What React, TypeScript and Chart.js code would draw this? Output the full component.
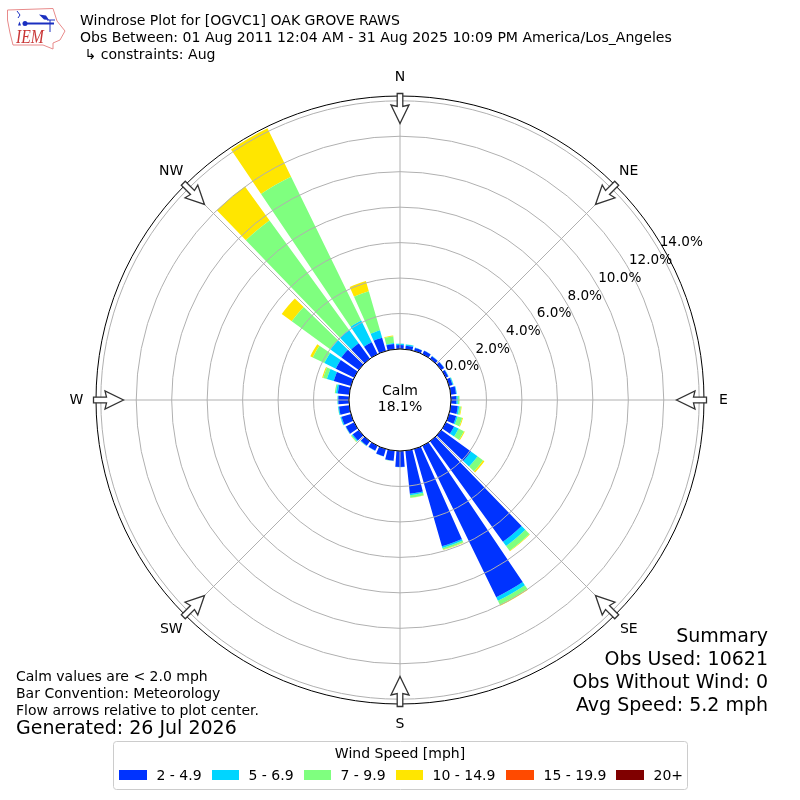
import React, { useEffect, useRef } from "react";
import { Chart, registerables } from "chart.js";

Chart.register(...registerables);

const directions = [0, 10, 20, 30, 40, 50, 60, 70, 80, 90, 100, 110, 120, 130, 140, 150, 160, 170, 180, 190, 200, 210, 220, 230, 240, 250, 260, 270, 280, 290, 300, 310, 320, 330, 340, 350];
const bin2to5 = [0.22, 0.2, 0.18, 0.22, 0.18, 0.2, 0.15, 0.2, 0.3, 0.3, 0.4, 0.42, 0.52, 2.07, 7.0, 9.5, 5.7, 2.44, 0.9, 0.57, 0.43, 0.3, 0.3, 0.42, 0.52, 0.55, 0.58, 0.6, 0.65, 1.01, 1.15, 1.21, 1.08, 0.75, 0.78, 0.3];
const bin5to7 = [0.08, 0.07, 0.02, 0.01, 0.02, 0.02, 0.03, 0.05, 0.04, 0.08, 0.08, 0.08, 0.28, 0.46, 0.3, 0.22, 0.1, 0.08, 0.01, 0.01, 0.01, 0.02, 0.03, 0.06, 0.02, 0.06, 0.05, 0.04, 0.1, 0.4, 0.72, 0.76, 0.94, 1.36, 0.43, 0.05];
const bin7to10 = [0.01, 0.02, 0, 0, 0, 0, 0, 0.02, 0, 0.1, 0.1, 0.27, 0.33, 0.38, 0.33, 0.25, 0.1, 0.14, 0, 0.01, 0, 0, 0.02, 0.05, 0.01, 0.02, 0.02, 0.02, 0.07, 0.22, 0.73, 2.7, 7.62, 9.03, 2.29, 0.38];
const bin10to15 = [0, 0, 0, 0, 0, 0, 0, 0, 0, 0, 0.04, 0.05, 0.06, 0.1, 0.04, 0.06, 0.03, 0.02, 0, 0, 0, 0, 0, 0.02, 0, 0, 0, 0, 0, 0.06, 0.15, 0.7, 2.36, 3.03, 0.6, 0.05];
const bin15to20 = directions.map(() => 0);
const bin20plus = directions.map(() => 0);

const binLabels = ["2 - 4.9", "5 - 6.9", "7 - 9.9", "10 - 14.9", "15 - 19.9", "20+"];
const binColors = ["#0033ff", "#00d5ff", "#7fff7f", "#ffe600", "#ff4a00", "#800000"];
const rTicks = [0, 2, 4, 6, 8, 10, 12, 14];
const compass = ["N", "NE", "E", "SE", "S", "SW", "W", "NW"];

const titleLines = [
  "Windrose Plot for [OGVC1] OAK GROVE RAWS",
  "Obs Between: 01 Aug 2011 12:04 AM - 31 Aug 2025 10:09 PM America/Los_Angeles",
  " \u21B3 constraints: Aug",
];
const noteLines = ["Calm values are < 2.0 mph", "Bar Convention: Meteorology", "Flow arrows relative to plot center."];
const generated = "Generated: 26 Jul 2026";
const summaryLines = ["Summary", "Obs Used: 10621", "Obs Without Wind: 0", "Avg Speed: 5.2 mph"];

const FONT = '"DejaVu Sans"';
const bins = [bin2to5, bin5to7, bin7to10, bin10to15, bin15to20, bin20plus];

function cumulative(level: number): number[] {
  const out: number[] = [];
  directions.forEach((_, i) => {
    let total = 0;
    for (let b = 0; b <= level; b++) total += bins[b][i];
    out.push(Math.round(total * 1000) / 1000, 0);
  });
  return out;
}

function text(ctx: CanvasRenderingContext2D, s: string, x: number, y: number, size: number, align: CanvasTextAlign = "left", color = "#000") {
  ctx.font = `${size}px ${FONT}`;
  ctx.textAlign = align;
  ctx.textBaseline = "middle";
  ctx.fillStyle = color;
  ctx.fillText(s, x, y);
}

function drawLogo(ctx: CanvasRenderingContext2D) {
  ctx.save();
  const outline = [[7.5, 10], [53, 8.5], [57, 21], [65, 31], [60, 40], [53, 43], [53, 49], [43, 45], [13, 45], [10, 33], [7.5, 20]];
  ctx.strokeStyle = "#e88a8a";
  ctx.lineWidth = 1;
  ctx.beginPath();
  outline.forEach(([x, y], i) => (i ? ctx.lineTo(x, y) : ctx.moveTo(x, y)));
  ctx.closePath();
  ctx.stroke();
  ctx.strokeStyle = "#1a2fc0";
  ctx.fillStyle = "#1a2fc0";
  ctx.lineWidth = 2;
  ctx.beginPath();
  ctx.moveTo(25, 23.5);
  ctx.lineTo(54, 23.5);
  ctx.stroke();
  ctx.beginPath();
  ctx.arc(25, 23.5, 2.5, 0, Math.PI * 2);
  ctx.fill();
  ctx.beginPath();
  ctx.moveTo(39, 14.5);
  ctx.lineTo(46, 15.5);
  ctx.lineTo(49, 20);
  ctx.lineTo(44, 19.5);
  ctx.closePath();
  ctx.fill();
  ctx.lineWidth = 1;
  ctx.beginPath();
  ctx.moveTo(17, 11);
  ctx.lineTo(20, 15);
  ctx.lineTo(18, 18);
  ctx.moveTo(50, 20);
  ctx.lineTo(50, 32);
  ctx.moveTo(47, 20);
  ctx.lineTo(55, 20);
  ctx.stroke();
  ctx.beginPath();
  ctx.moveTo(18, 25.5);
  ctx.lineTo(21, 25.5);
  ctx.lineTo(19.5, 21.5);
  ctx.closePath();
  ctx.fill();
  ctx.translate(16, 38);
  ctx.scale(0.87, 1);
  ctx.font = 'italic 18px "Liberation Serif"';
  ctx.textAlign = "left";
  ctx.textBaseline = "middle";
  ctx.fillStyle = "#c93636";
  ctx.fillText("IEM", 0, 0);
  ctx.restore();
}

function drawArrow(ctx: CanvasRenderingContext2D, cx: number, cy: number, deg: number) {
  ctx.save();
  ctx.translate(cx, cy);
  ctx.rotate((deg * Math.PI) / 180);
  // Local frame: y runs outward towards the rim
  const shape = [[-2.8, -306.5], [2.8, -306.5], [2.8, -293.5], [9, -295], [0, -276.5], [-9, -295], [-2.8, -293.5]];
  ctx.beginPath();
  shape.forEach(([x, y], i) => (i ? ctx.lineTo(x, y) : ctx.moveTo(x, y)));
  ctx.closePath();
  ctx.fillStyle = "#fff";
  ctx.fill();
  ctx.strokeStyle = "#333";
  ctx.lineWidth = 1.3;
  ctx.stroke();
  ctx.restore();
}

const windrosePlugin = {
  id: "windrose",
  // Turn each cumulative wedge into a ring segment that starts where the lower speed bin ends.
  afterDatasetsUpdate(chart: any) {
    const r = chart.scales.r;
    const zero = r.getDistanceFromCenterForValue(0);
    chart.data.datasets.forEach((_: any, level: number) => {
      const arcs = chart.getDatasetMeta(level).data;
      const below = level > 0 ? chart.getDatasetMeta(level - 1).data : null;
      arcs.forEach((arc: any, i: number) => {
        if (i % 2) {
          arc.outerRadius = 0;
          arc.innerRadius = 0;
          return;
        }
        arc.innerRadius = below ? below[i].outerRadius : zero;
      });
    });
  },
  afterDraw(chart: any) {
    const { ctx } = chart;
    const r = chart.scales.r;
    const cx = r.xCenter;
    const cy = r.yCenter;
    const calm = r.getDistanceFromCenterForValue(0);
    const outer = r.getDistanceFromCenterForValue(r.max);
    ctx.save();

    ctx.strokeStyle = "#b0b0b0";
    ctx.lineWidth = 1;
    compass.forEach((_, i) => {
      const a = (i * Math.PI) / 4;
      ctx.beginPath();
      ctx.moveTo(cx, cy);
      ctx.lineTo(cx + outer * Math.sin(a), cy - outer * Math.cos(a));
      ctx.stroke();
    });

    ctx.beginPath();
    ctx.arc(cx, cy, calm, 0, Math.PI * 2);
    ctx.fillStyle = "#fff";
    ctx.fill();
    ctx.strokeStyle = "#000";
    ctx.lineWidth = 1;
    ctx.stroke();
    ctx.beginPath();
    ctx.arc(cx, cy, outer, 0, Math.PI * 2);
    ctx.stroke();

    text(ctx, "Calm", cx, 391.5, 14, "center");
    text(ctx, "18.1%", cx, 407.5, 14, "center");

    compass.forEach((name, i) => {
      const deg = i * 45;
      drawArrow(ctx, cx, cy, deg);
      const a = (deg * Math.PI) / 180;
      text(ctx, name, cx + 323.5 * Math.sin(a), cy - 323.5 * Math.cos(a) + 0.5, 14, "center");
    });

    const la = (30 * Math.PI) / 180;
    rTicks.forEach((v) => {
      const d = r.getDistanceFromCenterForValue(v);
      text(ctx, `${v.toFixed(1)}%`, cx + d * Math.cos(la) + 0.5, cy - d * Math.sin(la) - 7.6, 13.6, "left");
    });

    titleLines.forEach((s, i) => text(ctx, s, 80, [21, 38, 55.5][i], 14.07));
    noteLines.forEach((s, i) => text(ctx, s, 16, [677, 694, 711][i], 14));
    text(ctx, generated, 16, 729.5, 19);
    summaryLines.forEach((s, i) => text(ctx, s, 768, [637, 660, 683, 706][i], 19, "right"));

    // Legend
    ctx.strokeStyle = "#cccccc";
    ctx.lineWidth = 1;
    ctx.beginPath();
    ctx.roundRect(113.5, 741.5, 574, 48, 3);
    ctx.stroke();
    text(ctx, "Wind Speed [mph]", 400, 754, 14, "center");
    const sx = [119, 212, 304, 396, 506, 616];
    const sw = [28, 27, 27, 27, 28, 28];
    binLabels.forEach((s, i) => {
      ctx.fillStyle = binColors[i];
      ctx.fillRect(sx[i], 770, sw[i], 10);
      text(ctx, s, sx[i] + sw[i] + 9.5, 776, 14);
    });

    drawLogo(ctx);
    ctx.restore();
  },
};

export default function App() {
  const ref = useRef<HTMLCanvasElement>(null);
  useEffect(() => {
    const chart = new Chart(ref.current as HTMLCanvasElement, {
      type: "polarArea",
      data: {
        labels: directions.flatMap((d) => [String(d), ""]),
        datasets: binLabels.map((label, level) => ({
          label,
          data: cumulative(level),
          backgroundColor: binColors[level],
          borderWidth: 0,
          angle: (c: any) => (c.index % 2 ? 2 : 8),
        })),
      },
      options: {
        responsive: false,
        devicePixelRatio: 1,
        animation: false,
        layout: { padding: 96 },
        plugins: { legend: { display: false }, tooltip: { enabled: false }, title: { display: false } },
        scales: {
          r: {
            min: -2.877,
            max: 14.27,
            startAngle: -4,
            afterBuildTicks: (axis: any) => {
              axis.ticks = rTicks.map((value) => ({ value }));
            },
            ticks: { display: false, stepSize: 2 },
            pointLabels: { display: false },
            angleLines: { display: false },
            grid: { circular: true, color: "#b0b0b0", lineWidth: 1, z: 1 },
          },
        },
      } as any,
      plugins: [windrosePlugin as any],
    });
    return () => chart.destroy();
  }, []);
  return (
    <div style={{ position: "absolute", left: 0, top: 0, width: 800, height: 800, background: "#fff" }}>
      <canvas ref={ref} width={800} height={800} style={{ display: "block" }} />
    </div>
  );
}
